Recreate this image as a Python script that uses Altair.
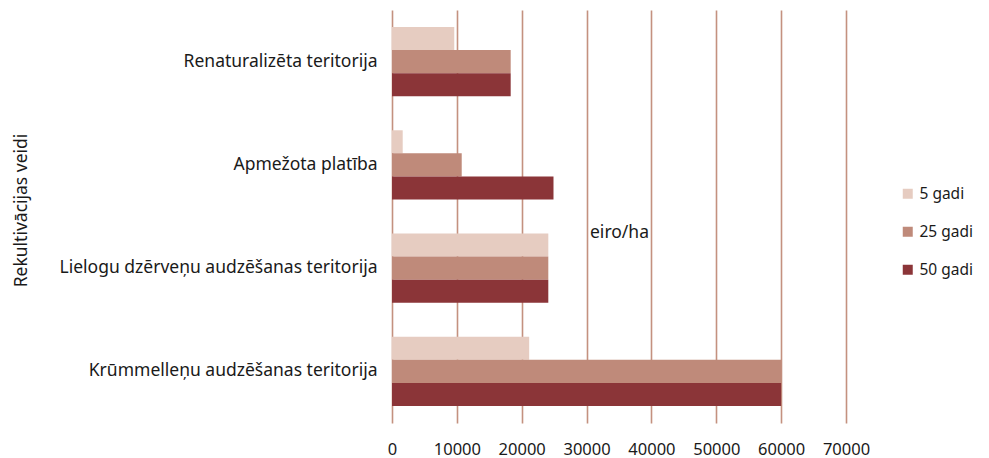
import altair as alt
import pandas as pd

categories = [
    "Renaturalizēta teritorija",
    "Apmežota platība",
    "Lielogu dzērveņu audzēšanas teritorija",
    "Krūmmelleņu audzēšanas teritorija",
]
series = ["5 gadi", "25 gadi", "50 gadi"]
values_5 = [9600, 1650, 24100, 21150]
values_25 = [18300, 10750, 24100, 60000]
values_50 = [18300, 24900, 24100, 60000]
colors = ["#E6CCC1", "#BF8A7A", "#8B3538"]

rows = []
for i, c in enumerate(categories):
    for s, vals in zip(series, [values_5, values_25, values_50]):
        rows.append({"cat": c, "series": s, "value": vals[i]})
df = pd.DataFrame(rows)

FONT = "Noto Sans"
TXT = "#1a1a1a"

chart = alt.Chart(df).mark_bar().encode(
    y=alt.Y("cat:N", sort=categories,
            scale=alt.Scale(paddingInner=0.33, paddingOuter=0.165),
            axis=alt.Axis(title="Rekultivācijas veidi", ticks=False, domain=False,
                          labelPadding=15, labelFontSize=17.5, labelColor=TXT,
                          labelFont=FONT, labelLimit=400,
                          titleFont=FONT, titleFontSize=17.5, titleFontWeight="normal",
                          titleColor=TXT, titleX=-371, titleY=200,
                          titleBaseline="middle", titleAngle=-90, titleAlign="center")),
    yOffset=alt.YOffset("series:N", sort=series, scale=alt.Scale(paddingInner=0, paddingOuter=0)),
    x=alt.X("value:Q", scale=alt.Scale(domain=[0, 70000], nice=False),
            axis=alt.Axis(title="eiro/ha", values=[0, 10000, 20000, 30000, 40000, 50000, 60000, 70000],
                          format="d", ticks=False, domain=False, grid=True,
                          labelOverlap=False, labelFlush=False, labelBound=False,
                          gridColor="#C4917F", gridWidth=1.6,
                          labelPadding=18, labelFontSize=16.5, labelColor=TXT, labelFont=FONT,
                          titleFont=FONT, titleFontSize=17.5, titleFontWeight="normal",
                          titleColor=TXT, titleX=227, titleY=-191, titleBaseline="middle")),
    color=alt.Color("series:N", sort=series,
                    scale=alt.Scale(domain=series, range=colors),
                    legend=alt.Legend(title=None, orient="none", legendX=508, legendY=176,
                                      symbolType="square", symbolSize=100, symbolStrokeWidth=0,
                                      labelFontSize=15.5, labelFont=FONT, labelColor=TXT,
                                      rowPadding=21, labelOffset=4, labelLimit=200)),
).properties(
    width=454, height=413,
    autosize=alt.AutoSizeParams(type="none"),
    padding={"left": 384, "top": 2, "right": 127, "bottom": 36},
).configure_view(stroke=None)

chart.save("out.html", embed_options={"renderer": "svg", "actions": False})
